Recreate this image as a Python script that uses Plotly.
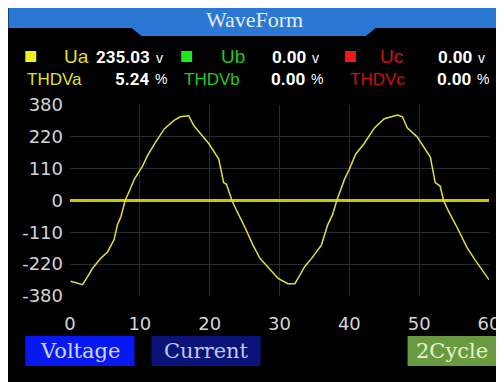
import numpy as np
import plotly.graph_objects as go

W, H = 504, 382

# ---- data ----
time_ms = [0.1, 1.8, 2.5, 3.2, 4.4, 5.4, 6.3, 6.8, 7.3, 7.9,
           8.5, 9.2, 10.4, 11.1, 12.1, 13.5, 14.9, 15.8, 17.0, 17.7,
           18.7, 19.9, 21.3, 22.0, 22.4, 23.2, 23.9, 25.1, 26.2, 27.2,
           28.1, 29.5, 29.8, 31.2, 32.2, 32.9, 33.6, 34.6, 36.0, 36.9,
           37.6, 38.2, 39.3, 40.0, 40.9, 42.1, 43.6, 45.0, 46.9, 47.6,
           48.3, 49.7, 51.6, 52.3, 53.0, 53.5, 54.2, 55.6, 56.8, 58.0,
           59.0, 60.0]
ua_volts = [-306, -323, -284, -242, -200, -177, -136, -84, -55, 0,
            33, 73, 120, 155, 196, 260, 303, 321, 326, 278,
            236, 196, 143, 62, 56, 0, -37, -95, -154, -200,
            -225, -284, -292, -318, -318, -276, -233, -200, -154, -84,
            -49, 0, 73, 108, 160, 196, 265, 311, 330, 321,
            265, 220, 150, 62, 50, 0, -37, -101, -160, -205,
            -251, -298]
baseline_time = [0, 60]
baseline_volts = [0, 0]

y_tick_labels = ["-380", "-220", "-110", "0", "110", "220", "380"]
y_tick_volts = [-380, -220, -110, 0, 110, 220, 380]
x_tick_vals = [0, 10, 20, 30, 40, 50, 60]

channels = ["Ua", "Ub", "Uc"]
channel_volts = ["235.03", "0.00", "0.00"]
thd_labels = ["THDVa", "THDVb", "THDVc"]
thd_values = ["5.24", "0.00", "0.00"]
buttons = ["Voltage", "Current", "2Cycle"]
title_text = "WaveForm"

# device screen uses equally spaced grid rows for non-uniform volt labels
grid_pos = list(range(-3, 4))
def to_grid(v):
    return np.interp(v, y_tick_volts, grid_pos)

# ---- layout geometry (screen pixels; page body has an 8px margin) ----
OFF = 8
L, R, T, B = 70, 492, 105, 296
def px(x):
    return (x - L) / (R - L)
def py(y):
    return (B - y) / (B - T)

fig = go.Figure()
fig.add_trace(go.Scatter(x=baseline_time, y=to_grid(baseline_volts), mode="lines",
                         line=dict(color="#c8c800", width=3), hoverinfo="skip"))
fig.add_trace(go.Scatter(x=time_ms, y=to_grid(ua_volts), mode="lines",
                         line=dict(color="#dede48", width=1.5)))

shapes = []
blue = "#2a78d4"
path = (f"M {px(OFF)},{py(OFF)} L {px(W + OFF)},{py(OFF)} L {px(W + OFF)},{py(28)} "
        f"L {px(378)},{py(28)} L {px(368)},{py(36)} L {px(142)},{py(36)} "
        f"L {px(132)},{py(28)} L {px(OFF)},{py(28)} Z")
shapes.append(dict(type="path", xref="paper", yref="paper", layer="below",
                   path=path, fillcolor=blue, line=dict(width=0)))

ann = []
def text(x, y, s, color, size, family, xanchor="left", bold=False):
    ann.append(dict(x=px(x), y=py(y), xref="paper", yref="paper", text=s,
                    showarrow=False, xanchor=xanchor, yanchor="middle",
                    font=dict(color=color, size=size, family=family,
                              weight="bold" if bold else "normal")))

text(256, 19, title_text, "#e4ecf6", 22, "Liberation Serif, serif", xanchor="center")

sans = "Liberation Sans, Arial, sans-serif"
numfont = "Roboto, sans-serif"
sq_colors = ["#f0f020", "#20e820", "#f01818"]
txt_colors = ["#e0e028", "#22c822", "#d01010"]
sq_x = [25, 182, 347]
lab_x = [62, 220, 380]
num_r = [153, 310, 477]
thd_x = [25, 183, 350]
for i in range(3):
    shapes.append(dict(type="rect", xref="paper", yref="paper",
                       x0=px(sq_x[i]), x1=px(sq_x[i] + 11), y0=py(51), y1=py(62),
                       fillcolor=sq_colors[i], line=dict(width=0)))
    text(lab_x[i], 56.5, channels[i], txt_colors[i], 19, sans)
    text(num_r[i], 56.5, channel_volts[i], "white", 17, numfont, xanchor="right", bold=True)
    text(num_r[i] + 2, 57.5, "v", "white", 14, sans)
    text(thd_x[i], 80, thd_labels[i], txt_colors[i], 17, sans)
    text(num_r[i] - 1, 79, thd_values[i], "white", 17, numfont, xanchor="right", bold=True)
    text(num_r[i] + 1, 79, "%", "white", 14, sans)

btn = [(25, 135, "#0818f0", "#cdd6ff"), (152, 262, "#0a1478", "#c0c8e8"), (410, 500, "#6a9a40", "#e4f2d0")]
for (x0, x1, fc, tc), s in zip(btn, buttons):
    shapes.append(dict(type="rect", xref="paper", yref="paper",
                       x0=px(x0), x1=px(x1), y0=py(336), y1=py(366),
                       fillcolor=fc, line=dict(width=0)))
    text((x0 + x1) / 2, 351, s, tc, 21, "DejaVu Serif, serif", xanchor="center")

fig.update_layout(
    width=W, height=H,
    margin=dict(l=L - OFF, r=W + OFF - R, t=T - OFF, b=H + OFF - B),
    paper_bgcolor="black", plot_bgcolor="black", showlegend=False,
    shapes=shapes, annotations=ann,
    xaxis=dict(range=[0, 60], tickvals=x_tick_vals, showgrid=True, gridcolor="#2c2c2c",
               gridwidth=1, zeroline=False, showline=False, ticks="",
               tickfont=dict(color="#d4d4d4", size=18, family="DejaVu Sans, sans-serif"),
               ticklabelstandoff=15),
    yaxis=dict(range=[-3, 3], tickvals=grid_pos, ticktext=y_tick_labels, showgrid=True,
               gridcolor="#2c2c2c", gridwidth=1, zeroline=False, showline=False, ticks="",
               tickfont=dict(color="#d4d4d4", size=18, family="DejaVu Sans, sans-serif"),
               ticklabelstandoff=6),
)
fig.write_html("out.html")
